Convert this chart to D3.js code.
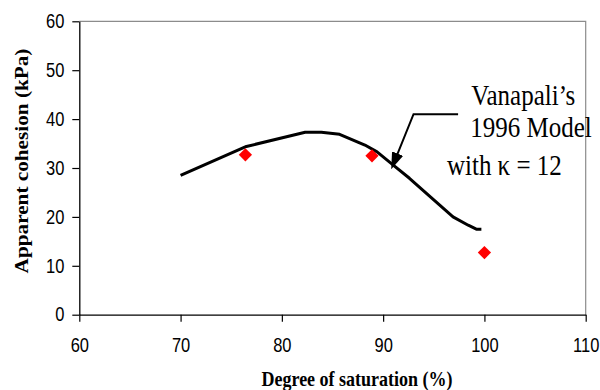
<!DOCTYPE html>
<html>
<head>
<meta charset="utf-8">
<script src="https://cdn.jsdelivr.net/npm/d3@7"></script>
<style>
  body { margin: 0; background: #fff; }
  svg { display: block; }
</style>
</head>
<body>
<div id="chart"></div>
<script>
// model curve (Vanapalli 1996, kappa = 12)
const modelSat = [70, 76.5, 82.3, 83.9, 85.7, 88.2, 89.4, 91.0, 92.6, 95.0, 96.9, 98.4, 99.2, 99.7]
const modelCoh = [28.5, 34.4, 37.3, 37.3, 36.9, 34.7, 33.3, 30.6, 27.9, 23.5, 20.0, 18.3, 17.5, 17.5]

// measured points
const testSat = [76.4, 88.9, 100.0]
const testCoh = [32.7, 32.5, 12.7]

const xTicks = [60, 70, 80, 90, 100, 110]
const yTicks = [0, 10, 20, 30, 40, 50, 60]

const labelLines = ["Vanapali\u2019s", "1996 Model", "with \u03ba = 12"]

const W = 600, H = 390
const margin = { top: 21.3, right: 14.3, bottom: 75.3, left: 79.3 }
const width = W - margin.left - margin.right
const height = H - margin.top - margin.bottom
const stretch = 1.18 // picture text looks taller than wide

let svg = d3.select("#chart")
    .append("svg")
    .attr("width", W)
    .attr("height", H)

let g = svg.append("g")
    .attr("transform", `translate(${margin.left}, ${margin.top})`)

let x = d3.scaleLinear().domain([60, 110]).range([0, width])
let y = d3.scaleLinear().domain([0, 60]).range([height, 0])

// plot border (top / right in grey)
g.append("path")
    .attr("d", `M0,0H${width}V${height}`)
    .attr("fill", "none")
    .attr("stroke", "#8c8c8c")
    .attr("stroke-width", 1.2)

// y axis
let yAxis = g.append("g")
    .call(d3.axisLeft(y).tickValues(yTicks).tickSize(7).tickPadding(8).tickSizeOuter(0))
yAxis.select(".domain").attr("stroke", "#000").attr("stroke-width", 1.3)
yAxis.selectAll(".tick line").attr("stroke", "#000").attr("stroke-width", 1.2)
yAxis.selectAll(".tick text")
    .attr("font-family", "'Liberation Sans', Arial, sans-serif")
    .attr("font-size", 16.5)
    .attr("fill", "#000")
    .attr("transform", `scale(1, ${stretch})`)

// x axis
let xAxis = g.append("g")
    .attr("transform", `translate(0, ${height})`)
    .call(d3.axisBottom(x).tickValues(xTicks).tickSize(7).tickSizeOuter(0))
xAxis.select(".domain").attr("stroke", "#000").attr("stroke-width", 1.3)
xAxis.selectAll(".tick line").attr("stroke", "#000").attr("stroke-width", 1.2)
xAxis.selectAll(".tick text")
    .attr("font-family", "'Liberation Sans', Arial, sans-serif")
    .attr("font-size", 16.5)
    .attr("fill", "#000")
    .attr("y", 37.6 / stretch)
    .attr("dy", 0)
    .attr("transform", `scale(1, ${stretch})`)

// axis titles
svg.append("text")
    .attr("transform", `translate(357, 385.5) scale(1, ${stretch})`)
    .attr("text-anchor", "middle")
    .attr("font-family", "'Liberation Serif', 'Times New Roman', serif")
    .attr("font-weight", "bold")
    .attr("font-size", 18)
    .text("Degree of saturation (%)")

svg.append("text")
    .attr("transform", `translate(28, 161) scale(1, ${stretch}) rotate(-90)`)
    .attr("text-anchor", "middle")
    .attr("font-family", "'Liberation Serif', 'Times New Roman', serif")
    .attr("font-weight", "bold")
    .attr("font-size", 18)
    .text("Apparent cohesion (kPa)")

// model line
const model = modelSat.map((s, i) => ({ s: s, c: modelCoh[i] }))
let line = d3.line()
    .x(d => x(d.s))
    .y(d => y(d.c))

g.append("path")
    .datum(model)
    .attr("d", line)
    .attr("fill", "none")
    .attr("stroke", "#000")
    .attr("stroke-width", 3)
    .attr("stroke-linejoin", "round")

// measured points, red diamonds
const tests = testSat.map((s, i) => ({ s: s, c: testCoh[i] }))
g.selectAll(".pt")
    .data(tests)
    .enter()
    .append("path")
    .attr("class", "pt")
    .attr("d", d3.symbol().type(d3.symbolSquare).size(88))
    .attr("transform", d => `translate(${x(d.s)}, ${y(d.c)}) rotate(45)`)
    .attr("fill", "#ff0000")

// annotation arrow (in data units)
const arrowSat = [97.4, 93.0, 91.3]
const arrowCoh = [41.0, 41.0, 32.3]
const arrowPts = arrowSat.map((s, i) => [x(s), y(arrowCoh[i])])

svg.append("defs").append("marker")
    .attr("id", "head")
    .attr("viewBox", "0 0 10 7")
    .attr("refX", 2)
    .attr("refY", 3.5)
    .attr("markerWidth", 8.5)
    .attr("markerHeight", 6)
    .attr("markerUnits", "strokeWidth")
    .attr("orient", "auto")
    .append("path")
    .attr("d", "M0,0L10,3.5L0,7Z")
    .attr("fill", "#000")

g.append("path")
    .attr("d", d3.line()(arrowPts))
    .attr("fill", "none")
    .attr("stroke", "#000")
    .attr("stroke-width", 2)
    .attr("marker-end", "url(#head)")

// annotation text
const labelSat = [98.7, 98.6, 96.3]
const labelCoh = [42.9, 36.4, 28.6]
g.selectAll(".note")
    .data(labelLines)
    .enter()
    .append("text")
    .attr("class", "note")
    .attr("transform", (d, i) => `translate(${x(labelSat[i])}, ${y(labelCoh[i])}) scale(1, ${stretch})`)
    .attr("font-family", "'Liberation Serif', 'Times New Roman', serif")
    .attr("font-size", 25)
    .attr("fill", "#000")
    .text(d => d)
</script>
</body>
</html>
